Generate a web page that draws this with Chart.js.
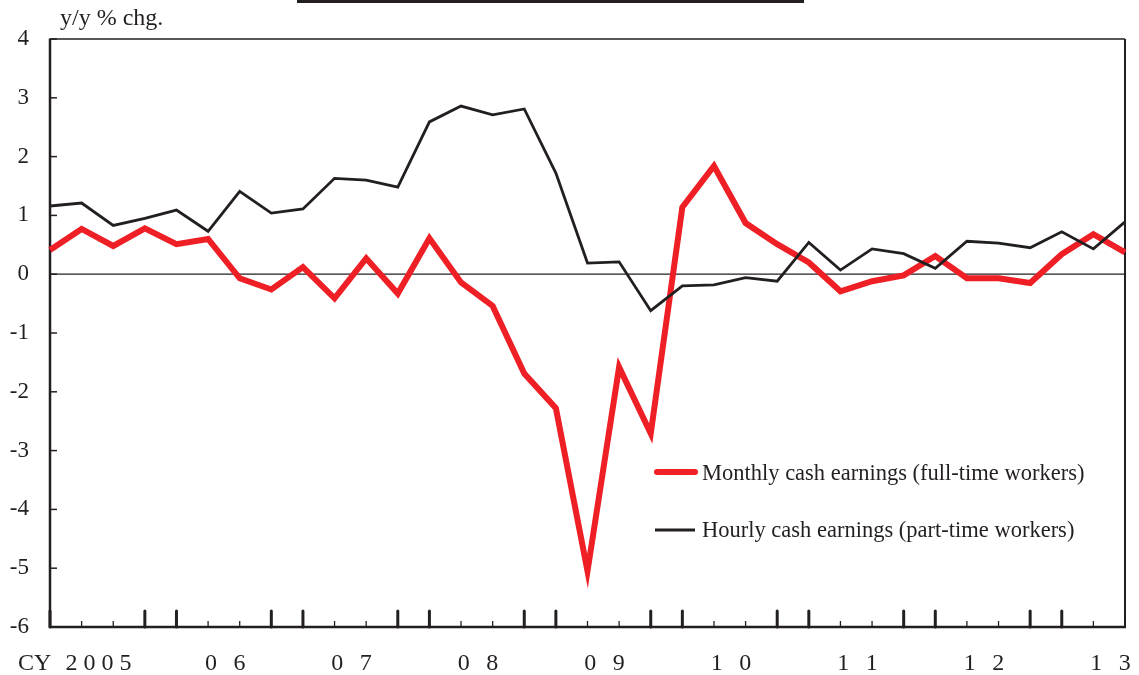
<!DOCTYPE html>
<html><head><meta charset="utf-8">
<script src="https://cdn.jsdelivr.net/npm/chart.js@4.4.0/dist/chart.umd.min.js"></script>
<style>html,body{margin:0;padding:0;background:#fff;}#wrap{width:1139px;height:675px;}</style>
</head><body><div id="wrap"><canvas id="c" width="1139" height="675"></canvas></div>
<script>
const quarters = [
 "2005Q1","2005Q2","2005Q3","2005Q4","2006Q1","2006Q2","2006Q3","2006Q4",
 "2007Q1","2007Q2","2007Q3","2007Q4","2008Q1","2008Q2","2008Q3","2008Q4",
 "2009Q1","2009Q2","2009Q3","2009Q4","2010Q1","2010Q2","2010Q3","2010Q4",
 "2011Q1","2011Q2","2011Q3","2011Q4","2012Q1","2012Q2","2012Q3","2012Q4",
 "2013Q1","2013Q2","2013Q3"];
const yearLabels = ["2005","06","07","08","09","10","11","12","13"];
const yearPrefix = "CY";
const yTicks = [-6,-5,-4,-3,-2,-1,0,1,2,3,4];
const monthlyFullTime = [
 0.41,0.77,0.48,0.78,0.51,0.60,-0.07,-0.26,
 0.12,-0.41,0.27,-0.33,0.61,-0.14,-0.54,-1.69,
 -2.28,-5.05,-1.58,-2.71,1.14,1.84,0.87,0.51,
 0.20,-0.29,-0.12,-0.02,0.31,-0.07,-0.07,-0.15,
 0.34,0.68,0.37];
const hourlyPartTime = [
 1.16,1.21,0.83,0.95,1.09,0.73,1.41,1.04,
 1.11,1.63,1.60,1.48,2.59,2.86,2.71,2.81,
 1.72,0.19,0.21,-0.62,-0.20,-0.18,-0.06,-0.12,
 0.54,0.07,0.43,0.35,0.10,0.56,0.53,0.45,
 0.72,0.43,0.89];
const seriesNames = ["Monthly cash earnings (full-time workers)","Hourly cash earnings (part-time workers)"];
const unitLabel = "y/y % chg.";

const INK = '#231f20', RED = '#ee1f25';
const SERIF = "'Liberation Serif','Times New Roman',serif";
Chart.defaults.font.family = SERIF;
Chart.defaults.color = INK;

function ln(ctx,x1,y1,x2,y2){ctx.beginPath();ctx.moveTo(x1,y1);ctx.lineTo(x2,y2);ctx.stroke();}

const decor = {
 id:'decor',
 beforeDatasetsDraw(chart){
  const {ctx, chartArea:a, scales:{x,y}} = chart;
  ctx.save();
  ctx.strokeStyle = INK;
  ctx.lineWidth = 1.3;
  const y0 = y.getPixelForValue(0);
  ln(ctx,a.left,y0,a.right,y0);
  ctx.lineWidth = 1.5;
  ln(ctx,a.left,a.top,a.right,a.top);
  ctx.lineWidth = 2;
  ln(ctx,a.right,a.top,a.right,a.bottom);
  ctx.lineWidth = 2.5;
  ln(ctx,a.left,a.top-0.5,a.left,a.bottom+1);
  ln(ctx,a.left,a.bottom,a.right+1,a.bottom);
  ctx.lineWidth = 1.5;
  yTicks.forEach(v=>{const py=y.getPixelForValue(v); ln(ctx,a.left,py,a.left+7,py);});
  quarters.forEach((q,i)=>{
    const px = x.getPixelForValue(i);
    const qn = q.slice(-1);
    if(qn==='1'||qn==='4'){
      ctx.lineWidth=3; ctx.lineCap='round';
      ln(ctx,px,a.bottom,px,a.bottom-16);
    } else {
      ctx.lineWidth=1.3; ctx.lineCap='butt';
      ln(ctx,px,a.bottom,px,a.bottom-6);
    }
  });
  ctx.restore();
 },
 afterDraw(chart){
  const {ctx, chartArea:a, scales:{x,y}} = chart;
  ctx.save();
  ctx.fillStyle = INK;
  ctx.fillRect(297,0,507,3);
  ctx.font = "24px "+SERIF;
  ctx.textAlign='left'; ctx.textBaseline='middle';
  ctx.fillText(unitLabel,60,19);
  ctx.font = "24px "+SERIF;
  ctx.textBaseline='alphabetic';
  yearLabels.forEach(lab=>{
    const yr = lab.length===4 ? lab : '20'+lab;
    const first = quarters.findIndex(q=>q.startsWith(yr));
    const cx = x.getPixelForValue(first+1.5);
    if(lab.length===4){
      const txt = lab.split('').join(' ');
      ctx.letterSpacing='0px';
      ctx.textAlign='center';
      ctx.fillText(txt,cx+1,670);
      const w = ctx.measureText(txt).width;
      ctx.textAlign='right';
      ctx.fillText(yearPrefix,cx+1-w/2-14,670);
    } else {
      const txt = lab.split('').join('  ');
      ctx.letterSpacing='1.5px';
      ctx.textAlign='center';
      ctx.fillText(txt,cx+2,670);
    }
  });
  ctx.letterSpacing='0px';
  ctx.lineCap='round';
  ctx.strokeStyle=RED; ctx.lineWidth=6;
  ln(ctx,657,472,695,472);
  ctx.strokeStyle=INK; ctx.lineWidth=2.8; ctx.lineCap='butt';
  ln(ctx,655,530,695,530);
  ctx.font="22.5px "+SERIF; ctx.textAlign='left'; ctx.textBaseline='middle';
  ctx.fillText(seriesNames[0],702,474);
  ctx.fillText(seriesNames[1],702,531);
  ctx.restore();
 }
};

new Chart(document.getElementById('c'),{
 type:'line',
 data:{
  labels:quarters,
  datasets:[
   {label:seriesNames[1],data:hourlyPartTime,borderColor:INK,borderWidth:2.8,pointRadius:0,tension:0,borderJoinStyle:'miter',fill:false},
   {label:seriesNames[0],data:monthlyFullTime,borderColor:RED,borderWidth:6,pointRadius:0,tension:0,borderJoinStyle:'miter',fill:false}
  ]
 },
 options:{
  responsive:false, animation:false, devicePixelRatio:1,
  layout:{padding:{top:39,right:14,left:0,bottom:0}},
  plugins:{legend:{display:false},tooltip:{enabled:false},title:{display:false}},
  scales:{
   x:{type:'category',offset:false,ticks:{display:false},grid:{display:false,drawTicks:false},border:{display:false},
      afterFit(s){s.height=48;}},
   y:{type:'linear',min:-6,max:4,
      ticks:{stepSize:1,padding:21,font:{size:23,family:SERIF},color:INK},
      grid:{display:false,drawTicks:false},border:{display:false},
      afterFit(s){s.width=50;}}
  }
 },
 plugins:[decor]
});
</script></body></html>
